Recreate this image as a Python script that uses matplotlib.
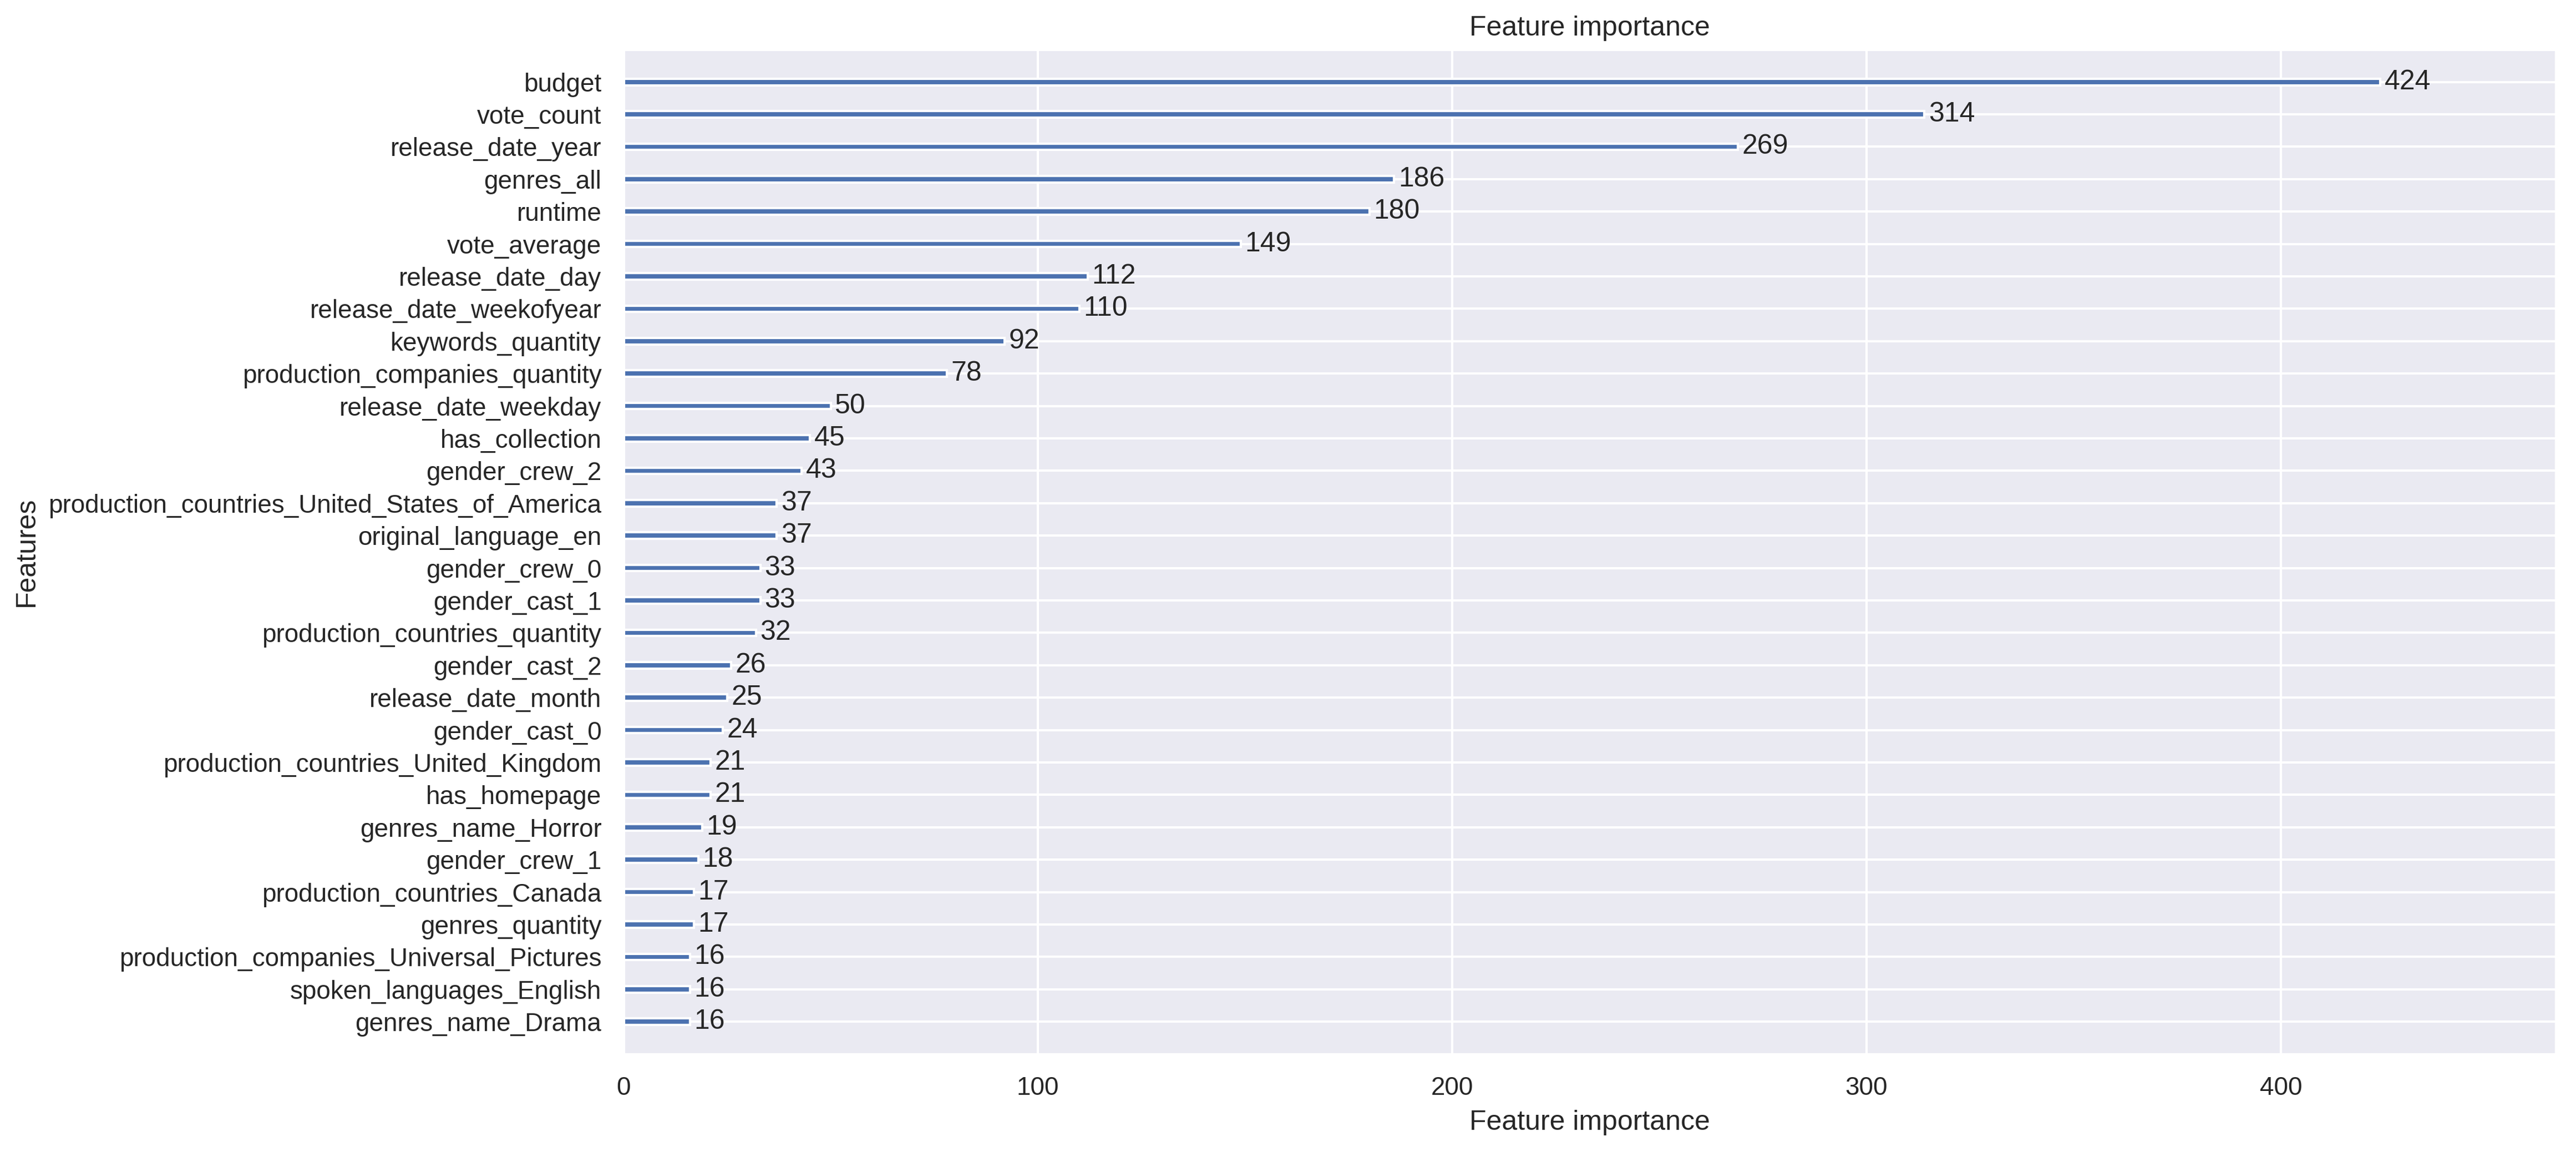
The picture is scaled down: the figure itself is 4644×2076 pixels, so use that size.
import matplotlib
matplotlib.use("Agg")
import matplotlib.pyplot as plt
import seaborn as sns

features = [
    "budget", "vote_count", "release_date_year", "genres_all", "runtime",
    "vote_average", "release_date_day", "release_date_weekofyear",
    "keywords_quantity", "production_companies_quantity", "release_date_weekday",
    "has_collection", "gender_crew_2", "production_countries_United_States_of_America",
    "original_language_en", "gender_crew_0", "gender_cast_1",
    "production_countries_quantity", "gender_cast_2", "release_date_month",
    "gender_cast_0", "production_countries_United_Kingdom", "has_homepage",
    "genres_name_Horror", "gender_crew_1", "production_countries_Canada",
    "genres_quantity", "production_companies_Universal_Pictures",
    "spoken_languages_English", "genres_name_Drama",
]
importance = [424, 314, 269, 186, 180, 149, 112, 110, 92, 78, 50, 45, 43, 37, 37,
              33, 33, 32, 26, 25, 24, 21, 21, 19, 18, 17, 17, 16, 16, 16]

sns.set_theme()
plt.rcParams["font.family"] = ["Liberation Sans", "DejaVu Sans"]
fig, ax = plt.subplots(figsize=(15.483, 6.92), dpi=300)

feat = features[::-1]
vals = importance[::-1]
ys = list(range(len(feat)))
ax.barh(ys, vals, height=0.2, align="center", color="#4C72B0")
for x, y in zip(vals, ys):
    ax.text(x + 1, y, str(x), va="center", fontsize=12)

ax.set_yticks(ys)
ax.set_yticklabels(feat)
ax.set_xlim(0, max(vals) * 1.1)
ax.set_ylim(-1, len(feat))
ax.set_title("Feature importance")
ax.set_xlabel("Feature importance")
ax.set_ylabel("Features")
fig.subplots_adjust(left=0.242, right=0.992, top=0.957, bottom=0.085)
fig.savefig("out.png", dpi=300)
